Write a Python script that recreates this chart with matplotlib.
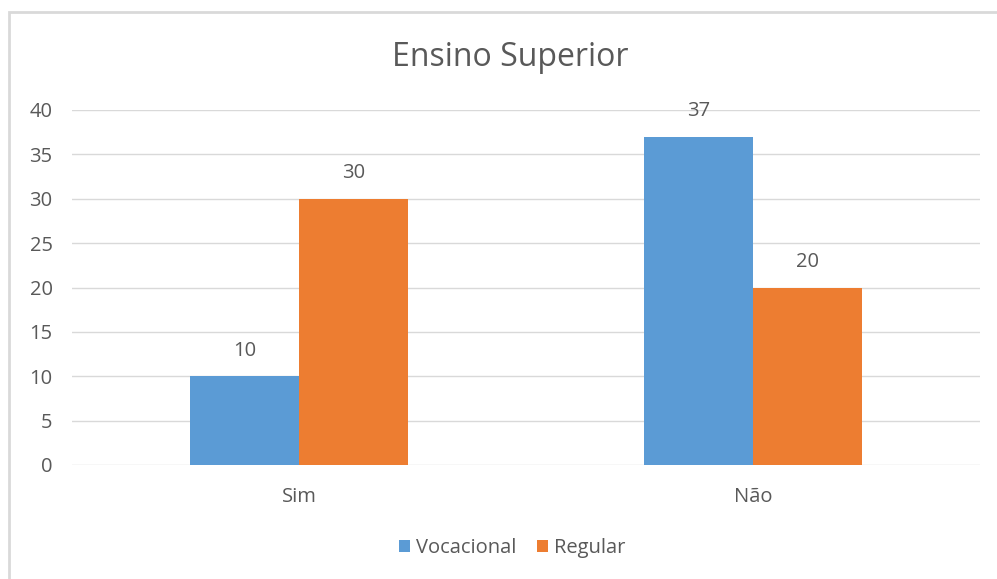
import matplotlib.pyplot as plt
import numpy as np
from matplotlib.patches import Rectangle

categories = ["Sim", "Não"]
vocacional = [10, 37]
regular = [30, 20]
series_names = ["Vocacional", "Regular"]
y_ticks = [0, 5, 10, 15, 20, 25, 30, 35, 40]

BLUE, ORANGE = "#5B9BD5", "#ED7D31"
TEXT, GRID = "#595959", "#D9D9D9"

plt.rcParams["font.family"] = ["Open Sans", "DejaVu Sans"]

W, H = 997, 579
fig = plt.figure(figsize=(W / 100, H / 100), dpi=100)

# outer chart border (only left and top visible in the reference)
fig.patches.append(Rectangle((9 / W, -0.1), 1.2, 1 - 12 / H + 0.1,
                             transform=fig.transFigure, fill=False,
                             edgecolor="#D9D9D9", lw=2))

ax = fig.add_axes([72 / W, 1 - 465 / H, (980 - 72) / W, (465 - 110) / H])

x = np.arange(len(categories))
w = 0.239
b1 = ax.bar(x - w / 2, vocacional, w, color=BLUE, label=series_names[0], zorder=3)
b2 = ax.bar(x + w / 2, regular, w, color=ORANGE, label=series_names[1], zorder=3)
for bars in (b1, b2):
    ax.bar_label(bars, padding=11, color=TEXT, fontsize=14.5)

ax.set_xlim(-0.5, 1.5)
ax.set_ylim(0, 40)
ax.set_yticks(y_ticks)
ax.set_xticks(x)
ax.set_xticklabels(categories)
ax.tick_params(axis="both", length=0, colors=TEXT, labelsize=14.5)
ax.tick_params(axis="y", pad=14)
ax.tick_params(axis="x", pad=16)
ax.grid(axis="y", color=GRID, lw=1, zorder=0)
for s in ax.spines.values():
    s.set_visible(False)

fig.text(510 / W, 1 - 58 / H, "Ensino Superior", ha="center", va="center",
         fontsize=23, color=TEXT)

fig.legend(handles=[b1, b2], loc="center", bbox_to_anchor=(512 / W, 1 - 548 / H),
           ncol=2, frameon=False, fontsize=14.5, labelcolor=TEXT,
           handlelength=0.55, handleheight=0.55, handletextpad=0.3, columnspacing=1.0)

fig.savefig("out.png", dpi=100, facecolor="white")
